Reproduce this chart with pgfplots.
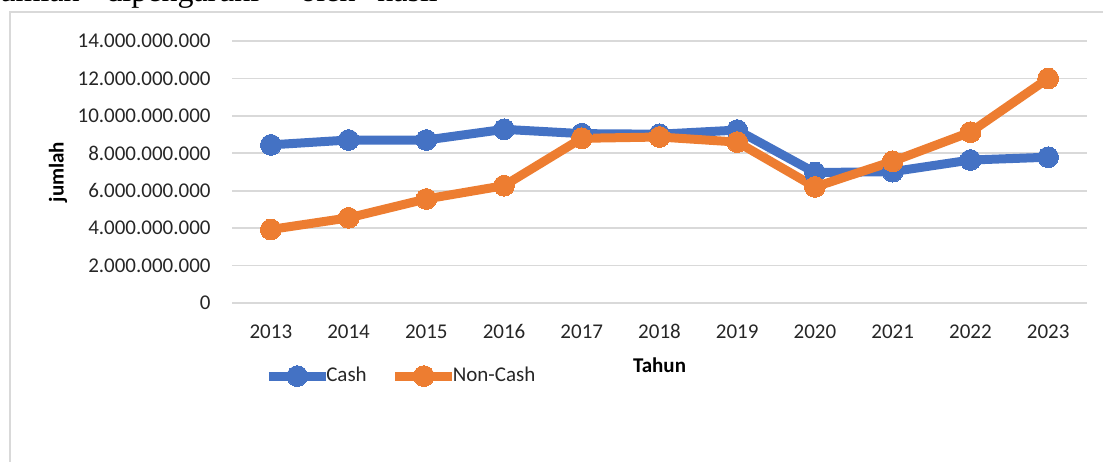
\documentclass[border=0pt]{standalone}
\usepackage{fontspec}
\setmainfont{Carlito}
\newfontfamily\docserif{Liberation Serif}
\usepackage{pgfplots}
\pgfplotsset{compat=1.18}
\definecolor{cashblue}{HTML}{4472C4}
\definecolor{noncashorange}{HTML}{ED7D31}
\definecolor{gridgray}{HTML}{D9D9D9}
\definecolor{txt}{HTML}{262626}
\begin{document}
\begin{tikzpicture}
% clipped document text above the chart
\begin{scope}
\clip (0pt,0pt) rectangle (551.5pt,-230.5pt);
\node[font=\docserif\fontsize{16}{18}\selectfont, anchor=base east, inner sep=0pt] at (40pt,-0.9pt) {jumlah};
\node[font=\docserif\fontsize{16}{18}\selectfont, anchor=base west, inner sep=0pt] at (53pt,-0.9pt) {dipengaruhi};
\node[font=\docserif\fontsize{16}{18}\selectfont, anchor=base west, inner sep=0pt] at (150pt,-0.9pt) {oleh};
\node[font=\docserif\fontsize{16}{18}\selectfont, anchor=base west, inner sep=0pt] at (188.5pt,-0.9pt) {hasil};
\end{scope}
% chart frame
\draw[gridgray, line width=1pt] (5pt,-231pt) -- (5pt,-6pt) -- (552pt,-6pt);
\begin{axis}[
  at={(116pt,-151.5pt)}, anchor=south west,
  scale only axis, width=427.5pt, height=131pt,
  xmin=2012.5, xmax=2023.5, ymin=0, ymax=14000000000,
  xtick={2013,2014,2015,2016,2017,2018,2019,2020,2021,2022,2023},
  xticklabels={2013,2014,2015,2016,2017,2018,2019,2020,2021,2022,2023},
  ytick={0,2000000000,4000000000,6000000000,8000000000,10000000000,12000000000,14000000000},
  yticklabels={0,2.000.000.000,4.000.000.000,6.000.000.000,8.000.000.000,10.000.000.000,12.000.000.000,14.000.000.000},
  scaled y ticks=false,
  /pgf/number format/assume math mode=true,
  axis line style={draw=none},
  major tick length=0pt,
  ymajorgrids, grid style={gridgray, line width=0.9pt},
  tick label style={font=\fontsize{10.5}{12}\selectfont, text=txt},
  yticklabel style={anchor=east, inner sep=0pt, xshift=-10.5pt},
  xticklabel style={anchor=north, inner sep=0pt, yshift=-10.5pt},
  xlabel={Tahun}, ylabel={jumlah},
  xlabel style={font=\bfseries\fontsize{10.5}{12}\selectfont, text=black, at={(axis description cs:0.5,0)}, anchor=center, yshift=-31pt},
  ylabel style={font=\bfseries\fontsize{10.5}{12}\selectfont, text=black, at={(axis description cs:-0.2035,0.5)}, anchor=center, rotate=0},
  legend columns=2,
  legend style={draw=none, fill=none, at={(axis description cs:0.0373,-0.279)}, anchor=west, inner sep=0pt,
    font=\fontsize{10.5}{12}\selectfont, text=txt,
    nodes={inner sep=0pt},
    /tikz/every odd column/.append style={column sep=-2pt},
    /tikz/every even column/.append style={column sep=12pt}},
  legend image code/.code={\draw[#1,mark repeat=2,mark phase=2] plot coordinates {(0pt,0pt) (14.25pt,0pt) (28.5pt,0pt)};},
  clip=false
]
\addplot[cashblue, line width=4.5pt, mark=*, mark size=5.2pt, mark options={line width=0pt}] coordinates {
 (2013,8450000000) (2014,8710000000) (2015,8710000000) (2016,9280000000) (2017,9050000000)
 (2018,9020000000) (2019,9240000000) (2020,6970000000) (2021,7020000000) (2022,7640000000) (2023,7790000000)};
\addlegendentry{Cash}
\addplot[noncashorange, line width=4.5pt, mark=*, mark size=5.2pt, mark options={line width=0pt}] coordinates {
 (2013,3930000000) (2014,4550000000) (2015,5560000000) (2016,6270000000) (2017,8800000000)
 (2018,8870000000) (2019,8600000000) (2020,6200000000) (2021,7570000000) (2022,9130000000) (2023,12000000000)};
\addlegendentry{Non-Cash}
\end{axis}
\pgfresetboundingbox
\path[use as bounding box] (0pt,0pt) rectangle (551.5pt,-230.5pt);
\end{tikzpicture}
\end{document}
